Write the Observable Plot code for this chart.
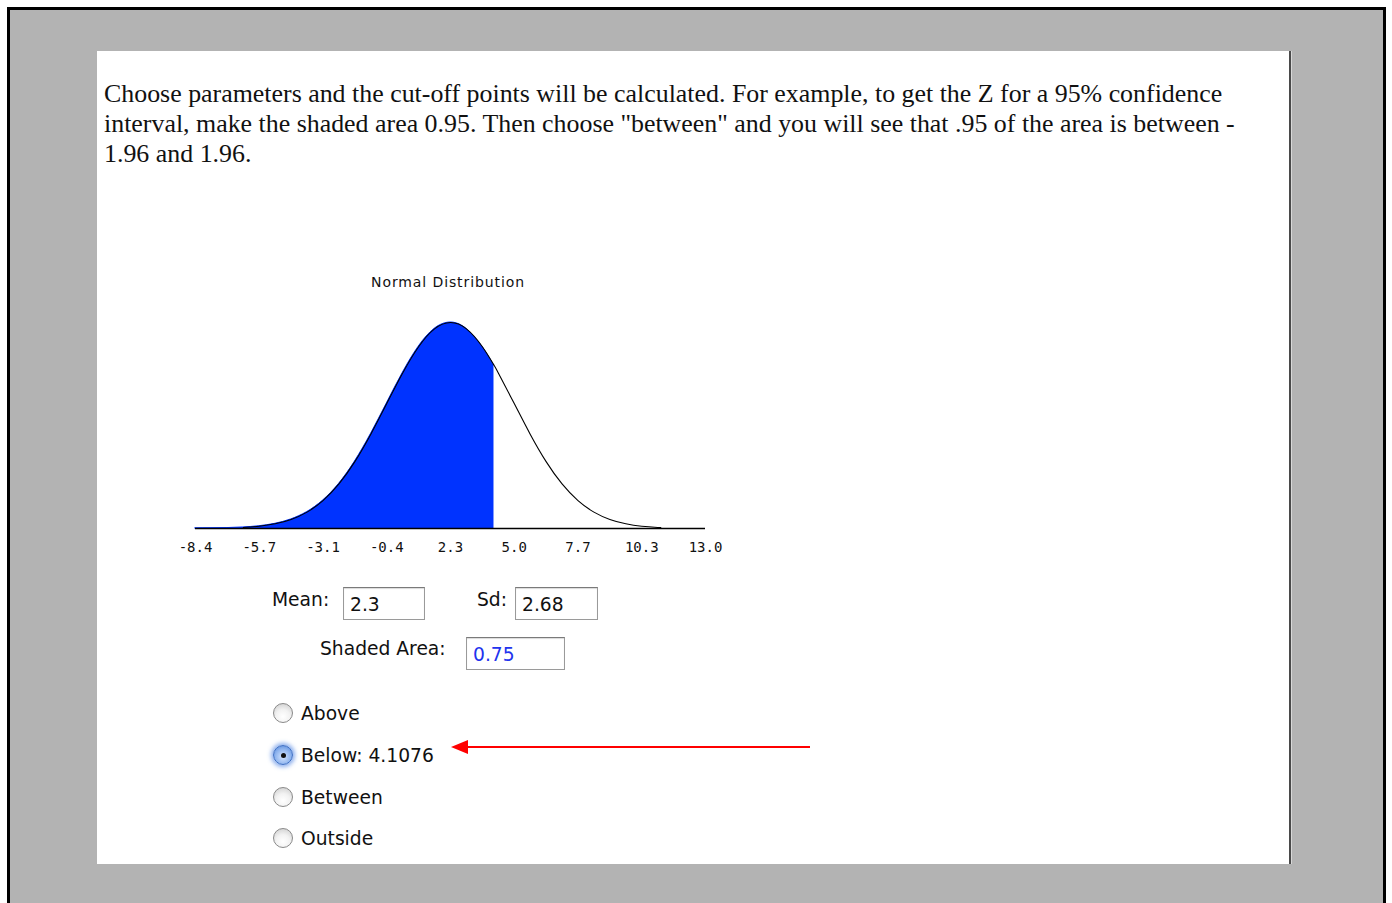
<!DOCTYPE html>
<html>
<head>
<meta charset="utf-8">
<script src="https://cdn.jsdelivr.net/npm/d3@7"></script>
<script src="https://cdn.jsdelivr.net/npm/@observablehq/plot@0.6"></script>
<style>
  html, body { margin: 0; padding: 0; background: #fff; width: 1392px; height: 903px; overflow: hidden; }
  #frame { position: absolute; left: 7px; top: 7px; width: 1373px; height: 920px; background: #b3b3b3;
           border-left: 3px solid #000; border-top: 3px solid #000; border-right: 3px solid #000; }
  #panel { position: absolute; left: 97px; top: 51px; width: 1192px; height: 813px; background: #fff; }
  #edge { position: absolute; left: 1289px; top: 51px; width: 2px; height: 813px; background: #4a4a4a; }
  #edge2 { position: absolute; left: 1291px; top: 51px; width: 1px; height: 813px; background: #d8d8d8; }
  #intro { position: absolute; left: 104px; top: 79px; font-family: "Liberation Serif", "Times New Roman", serif;
           font-size: 25.9px; line-height: 30px; color: #111; white-space: nowrap; letter-spacing: 0px; }
  .lbl { position: absolute; font-family: "DejaVu Sans", sans-serif; font-size: 18.7px; line-height: 22px; color: #111; white-space: nowrap; }
  .box { position: absolute; border: 1px solid #9a9a9a; border-top-color: #7a7a7a; background: #fff;
         box-shadow: inset 0 1px 1px rgba(0,0,0,0.15); box-sizing: border-box;
         font-family: "DejaVu Sans", sans-serif; font-size: 18.7px; line-height: 34px; padding-left: 6px; color: #111; }
  .radio { position: absolute; width: 20px; height: 20px; border-radius: 50%; box-sizing: border-box;
           border: 1px solid #8a8a8a; background: radial-gradient(circle at 50% 70%, #ffffff 0%, #f2f2f2 45%, #c8c8c8 100%); }
  .radio.sel { border: 1px solid #3d6fc4; background: radial-gradient(circle at 50% 60%, #d6e6ff 0%, #8fb4ee 55%, #4a7fd6 100%);
               box-shadow: 0 0 4px 2px rgba(90,140,230,0.7); }
  .radio.sel::after { content: ""; position: absolute; left: 6.5px; top: 6.5px; width: 5px; height: 5px; border-radius: 50%; background: #111; }
  #title { position: absolute; left: 348px; width: 200px; top: 274px; text-align: center; font-family: "DejaVu Sans", sans-serif;
           font-size: 14px; letter-spacing: 0.9px; color: #111; }
  #chart { position: absolute; left: 150px; top: 260px; }
  #arrow { position: absolute; left: 0; top: 0; }
</style>
</head>
<body>
<div id="frame"></div>
<div id="panel"></div>
<div id="edge"></div>
<div id="edge2"></div>
<div id="intro">Choose parameters and the cut-off points will be calculated. For example, to get the Z for a 95% confidence<br>interval, make the shaded area 0.95. Then choose "between" and you will see that .95 of the area is between -<br>1.96 and 1.96.</div>
<div id="title">Normal Distribution</div>
<div id="chart"></div>
<div id="form"></div>
<svg id="arrow" width="1392" height="903"></svg>
<script>
// ---- chart values ----
const meanValue = 2.3;
const sdValue = 2.68;
const shadedArea = 0.75;
const cutoff = 4.1076;
const tickValues = [-8.42, -5.74, -3.06, -0.38, 2.3, 4.98, 7.66, 10.34, 13.02];
const tickLabels = ["-8.4", "-5.7", "-3.1", "-0.4", "2.3", "5.0", "7.7", "10.3", "13.0"];
const curveX = [-8.42, -7.75, -7.08, -6.41, -5.74, -5.07, -4.40, -3.73, -3.06, -2.39, -1.72, -1.05, -0.38,
                0.29, 0.96, 1.63, 2.30, 2.97, 3.64, 4.1076, 4.31, 4.98, 5.65, 6.32, 6.99, 7.66, 8.33, 9.00,
                9.67, 10.34, 11.01, 11.14];
const curveDensity = [0.00005, 0.00013, 0.00032, 0.00076, 0.00165, 0.00339, 0.00654, 0.01184, 0.02015,
                0.03219, 0.04833, 0.06815, 0.09029, 0.11237, 0.13137, 0.14428, 0.14886, 0.14428, 0.13137,
                0.11859, 0.11237, 0.09029, 0.06815, 0.04833, 0.03219, 0.02015, 0.01184, 0.00654, 0.00339,
                0.00165, 0.00076, 0.00064];
const radioOptions = ["Above", "Below: 4.1076", "Between", "Outside"];
const selectedOption = 1;

// ---- build tables ----
const curve = curveX.map((x, i) => ({x, y: curveDensity[i]}));
const shaded = curve.filter(d => d.x <= cutoff);
const outline = curve.filter(d => d.x >= -6.41);
const labelOf = new Map(tickValues.map((v, i) => [v, tickLabels[i]]));

const chart = Plot.plot({
  width: 600,
  height: 310,
  marginTop: 0, marginBottom: 0, marginLeft: 0, marginRight: 0,
  x: {domain: [tickValues[0], tickValues[tickValues.length - 1]], range: [45, 555]},
  y: {domain: [0, 0.14886], range: [268, 62], axis: null},
  style: {background: "transparent", overflow: "visible"},
  marks: [
    Plot.areaY(shaded, {x: "x", y: "y", fill: "#0033ff", stroke: "#0033ff", strokeWidth: 1, curve: "natural"}),
    Plot.line(outline, {x: "x", y: "y", stroke: "#000", strokeWidth: 1.1, curve: "natural"}),
    Plot.ruleY([{y: 0, x1: tickValues[0], x2: tickValues[tickValues.length - 1]}],
               {y: "y", x1: "x1", x2: "x2", stroke: "#000", strokeWidth: 1.3}),
    Plot.axisX({ticks: tickValues, tickFormat: d => labelOf.get(d), tickSize: 6, tickPadding: 8,
                anchor: "bottom", y: 0,
                fontSize: 14, fontFamily: "DejaVu Sans Mono", fill: "#111", stroke: null, label: null})
  ]
});
document.getElementById("chart").appendChild(chart);

// ---- form ----
const form = document.getElementById("form");
function add(html) { form.insertAdjacentHTML("beforeend", html); }
add(`<div class="lbl" style="left:272px;top:589px">Mean:</div>`);
add(`<div class="box" style="left:343px;top:587px;width:82px;height:33px">${meanValue}</div>`);
add(`<div class="lbl" style="left:477px;top:589px">Sd:</div>`);
add(`<div class="box" style="left:515px;top:587px;width:83px;height:33px">${sdValue}</div>`);
add(`<div class="lbl" style="left:320px;top:638px">Shaded Area:</div>`);
add(`<div class="box" style="left:466px;top:637px;width:99px;height:33px;color:#2233ee">${shadedArea}</div>`);
const radioY = [713, 755, 797, 838];
radioOptions.forEach((t, i) => {
  add(`<div class="radio${i === selectedOption ? " sel" : ""}" style="left:${283 - 10}px;top:${radioY[i] - 10}px"></div>`);
  add(`<div class="lbl" style="left:301px;top:${radioY[i] - 10}px">${t}</div>`);
});

// ---- red arrow annotation ----
const svg = d3.select("#arrow");
svg.append("line").attr("x1", 810).attr("y1", 747).attr("x2", 462).attr("y2", 747)
   .attr("stroke", "#ff0000").attr("stroke-width", 2);
svg.append("polygon").attr("points", "451,747 468,740 468,754").attr("fill", "#ff0000");
</script>
</body>
</html>
